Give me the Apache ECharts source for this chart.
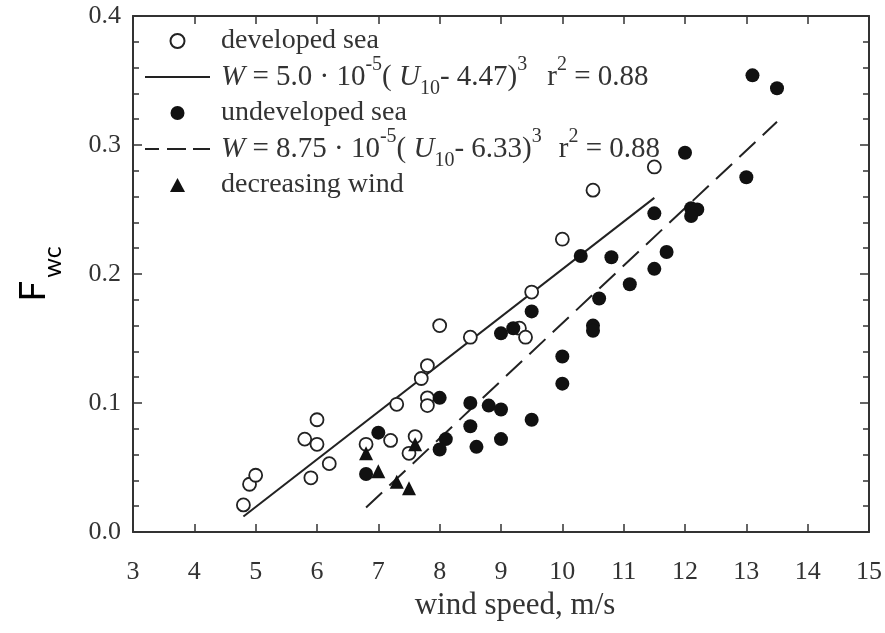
<!DOCTYPE html>
<html>
<head>
<meta charset="utf-8">
<script src="https://cdn.jsdelivr.net/npm/echarts@6/dist/echarts.min.js"></script>
<style>
  html, body { margin: 0; padding: 0; background: #fff; }
  #chart { width: 885px; height: 633px; }
</style>
</head>
<body>
<div id="chart"></div>
<script>
// developed sea (open circles)
var devX = [4.8, 4.9, 5.0, 5.8, 6.0, 6.0, 5.9, 6.2, 6.8, 7.2, 7.3, 7.6, 7.5, 7.7, 7.8, 7.8, 7.8, 8.0, 8.5, 9.3, 9.4, 9.5, 10.0, 10.5, 11.5];
var devY = [0.021, 0.037, 0.044, 0.072, 0.087, 0.068, 0.042, 0.053, 0.068, 0.071, 0.099, 0.074, 0.061, 0.119, 0.129, 0.104, 0.098, 0.160, 0.151, 0.158, 0.151, 0.186, 0.227, 0.265, 0.283];
// undeveloped sea (filled circles)
var undX = [6.8, 7.0, 8.0, 8.5, 8.8, 9.0, 8.5, 8.6, 9.0, 9.5, 8.1, 8.0, 9.0, 9.2, 9.5, 10.0, 10.0, 10.3, 10.8, 10.6, 10.5, 10.5, 11.1, 11.5, 11.5, 11.7, 12.0, 12.1, 12.2, 12.1, 13.0, 13.1, 13.5];
var undY = [0.045, 0.077, 0.104, 0.100, 0.098, 0.095, 0.082, 0.066, 0.072, 0.087, 0.072, 0.064, 0.154, 0.158, 0.171, 0.136, 0.115, 0.214, 0.213, 0.181, 0.160, 0.156, 0.192, 0.204, 0.247, 0.217, 0.294, 0.251, 0.250, 0.245, 0.275, 0.354, 0.344];
// decreasing wind (triangles)
var decX = [6.8, 7.0, 7.3, 7.5, 7.6];
var decY = [0.061, 0.047, 0.039, 0.034, 0.068];
// fitted lines, end points
var fitDevX = [4.8, 11.5];
var fitDevY = [0.012, 0.259];
var fitUndX = [6.8, 13.5];
var fitUndY = [0.019, 0.318];
// ticks
var xTicks = [3, 4, 5, 6, 7, 8, 9, 10, 11, 12, 13, 14, 15];
var yTicks = ['0.0', '0.1', '0.2', '0.3', '0.4'];

var names = ['developed sea', 'fit developed', 'undeveloped sea', 'fit undeveloped', 'decreasing wind'];

function pairs(xs, ys) {
  return xs.map(function (x, i) { return [x, ys[i]]; });
}

var serif = 'Liberation Serif';
var ink = '#222';
var txt = '#333';

// formula rows: sup/sub are pinned to the top/bottom of a 44px line
var FL = 44;
var legendRich = {
  i: { fontFamily: serif, fontSize: 29, fontStyle: 'italic', color: txt, lineHeight: FL },
  n: { fontFamily: serif, fontSize: 29, color: txt, lineHeight: FL },
  sup: { fontFamily: serif, fontSize: 20, color: txt, lineHeight: 10, verticalAlign: 'top' },
  sub: { fontFamily: serif, fontSize: 20, color: txt, lineHeight: 10, verticalAlign: 'bottom' },
  gapa: { width: 20, lineHeight: FL },
  gapb: { width: 17, lineHeight: FL },
  p28: { fontFamily: serif, fontSize: 28, color: txt, lineHeight: 28 },
  p32: { fontFamily: serif, fontSize: 28, color: txt, lineHeight: 32 }
};

var myChart = echarts.init(document.getElementById('chart'));

var axisBase = {
  axisLine: { show: true, onZero: false, lineStyle: { color: '#333', width: 2 } },
  splitLine: { show: false }
};

var option = {
  animation: false,
  backgroundColor: '#fff',
  grid: { left: 133, right: 16, top: 16, bottom: 101, outerBoundsMode: 'none', containLabel: false },
  xAxis: [
    Object.assign({}, axisBase, {
      type: 'value', min: 3, max: 15, interval: 1, position: 'bottom',
      axisTick: { inside: true, length: 8, lineStyle: { color: '#333', width: 1.5 } },
      axisLabel: {
        margin: 27, color: txt, fontFamily: serif, fontSize: 26,
        formatter: function (v) { return xTicks.indexOf(v) >= 0 ? String(v) : ''; }
      },
      name: 'wind speed, m/s', nameLocation: 'middle', nameGap: 56,
      nameTextStyle: { color: txt, fontFamily: serif, fontSize: 31, padding: [0, 0, 0, 28] }
    }),
    Object.assign({}, axisBase, {
      type: 'value', min: 3, max: 15, interval: 1, position: 'top',
      axisTick: { inside: true, length: 8, lineStyle: { color: '#333', width: 1.5 } },
      axisLabel: { show: false }
    })
  ],
  yAxis: [
    Object.assign({}, axisBase, {
      type: 'value', min: 0, max: 0.4, interval: 0.1, position: 'left',
      axisTick: { inside: true, length: 9, lineStyle: { color: '#333', width: 1.5 } },
      minorTick: { show: true, splitNumber: 5, length: 6, lineStyle: { color: '#333', width: 1.5 } },
      axisLabel: {
        margin: 12, color: txt, fontFamily: serif, fontSize: 26,
        formatter: function (v) { return yTicks[Math.round(v * 10)]; }
      },
      name: '{f|F}{s|wc}', nameLocation: 'middle', nameGap: 68, nameRotate: 90,
      nameTextStyle: {
        rich: {
          f: { fontFamily: 'Lato', fontSize: 37, color: '#000', lineHeight: 50, verticalAlign: 'top' },
          s: { fontFamily: 'Lato', fontSize: 25, color: '#000', lineHeight: 16, verticalAlign: 'bottom', padding: [0, 0, 0, 3] }
        }
      }
    }),
    Object.assign({}, axisBase, {
      type: 'value', min: 0, max: 0.4, interval: 0.1, position: 'right',
      axisTick: { inside: true, length: 9, lineStyle: { color: '#333', width: 1.5 } },
      minorTick: { show: true, splitNumber: 5, length: 6, lineStyle: { color: '#333', width: 1.5 } },
      axisLabel: { show: false }
    })
  ],
  legend: {
    orient: 'vertical', left: 140, top: 22, itemGap: 0,
    itemWidth: 65, itemHeight: 14,
    selectedMode: false,
    data: [
      { name: names[0] },
      { name: names[1], icon: 'path://M0,0 L65,0 L65,2 L0,2 Z' },
      { name: names[2] },
      { name: names[3], icon: 'path://M0,0 L14,0 L14,2 L0,2 Z M22,0 L41,0 L41,2 L22,2 Z M48,0 L65,0 L65,2 L48,2 Z' },
      { name: names[4], icon: 'path://M7,0 L14,13 L0,13 Z' }
    ],
    textStyle: {
      color: txt, fontFamily: serif, fontSize: 28, padding: [0, 0, 0, 6],
      rich: legendRich
    },
    formatter: function (name) {
      if (name === names[1]) {
        return '{i|W}{n| = 5.0 · 10}{sup|-5}{n|( }{i|U}{sub|10}{n|- 4.47)}{sup|3}{gapa|}{n|r}{sup|2}{n| = 0.88}';
      }
      if (name === names[3]) {
        return '{i|W}{n| = 8.75 · 10}{sup|-5}{n|( }{i|U}{sub|10}{n|- 6.33)}{sup|3}{gapb|}{n|r}{sup|2}{n| = 0.88}';
      }
      if (name === names[2]) return '{p32|' + name + '}';
      return '{p28|' + name + '}';
    }
  },
  series: [
    {
      name: names[1], type: 'line', data: pairs(fitDevX, fitDevY),
      symbol: 'none', lineStyle: { color: ink, width: 2 }, itemStyle: { color: ink }, z: 2
    },
    {
      name: names[3], type: 'line', data: pairs(fitUndX, fitUndY),
      symbol: 'none', lineStyle: { color: ink, width: 2, type: [22, 10] }, itemStyle: { color: ink }, z: 2
    },
    {
      name: names[0], type: 'scatter', data: pairs(devX, devY),
      symbol: 'circle', symbolSize: 13,
      itemStyle: { color: '#fff', borderColor: ink, borderWidth: 1.8, opacity: 1 }, z: 3
    },
    {
      name: names[2], type: 'scatter', data: pairs(undX, undY),
      symbol: 'circle', symbolSize: 14,
      itemStyle: { color: '#111', opacity: 1 }, z: 4
    },
    {
      name: names[4], type: 'scatter', data: pairs(decX, decY),
      symbol: 'triangle', symbolSize: 14, symbolKeepAspect: true,
      itemStyle: { color: '#111', opacity: 1 }, z: 4
    }
  ]
};

myChart.setOption(option);
</script>
</body>
</html>
